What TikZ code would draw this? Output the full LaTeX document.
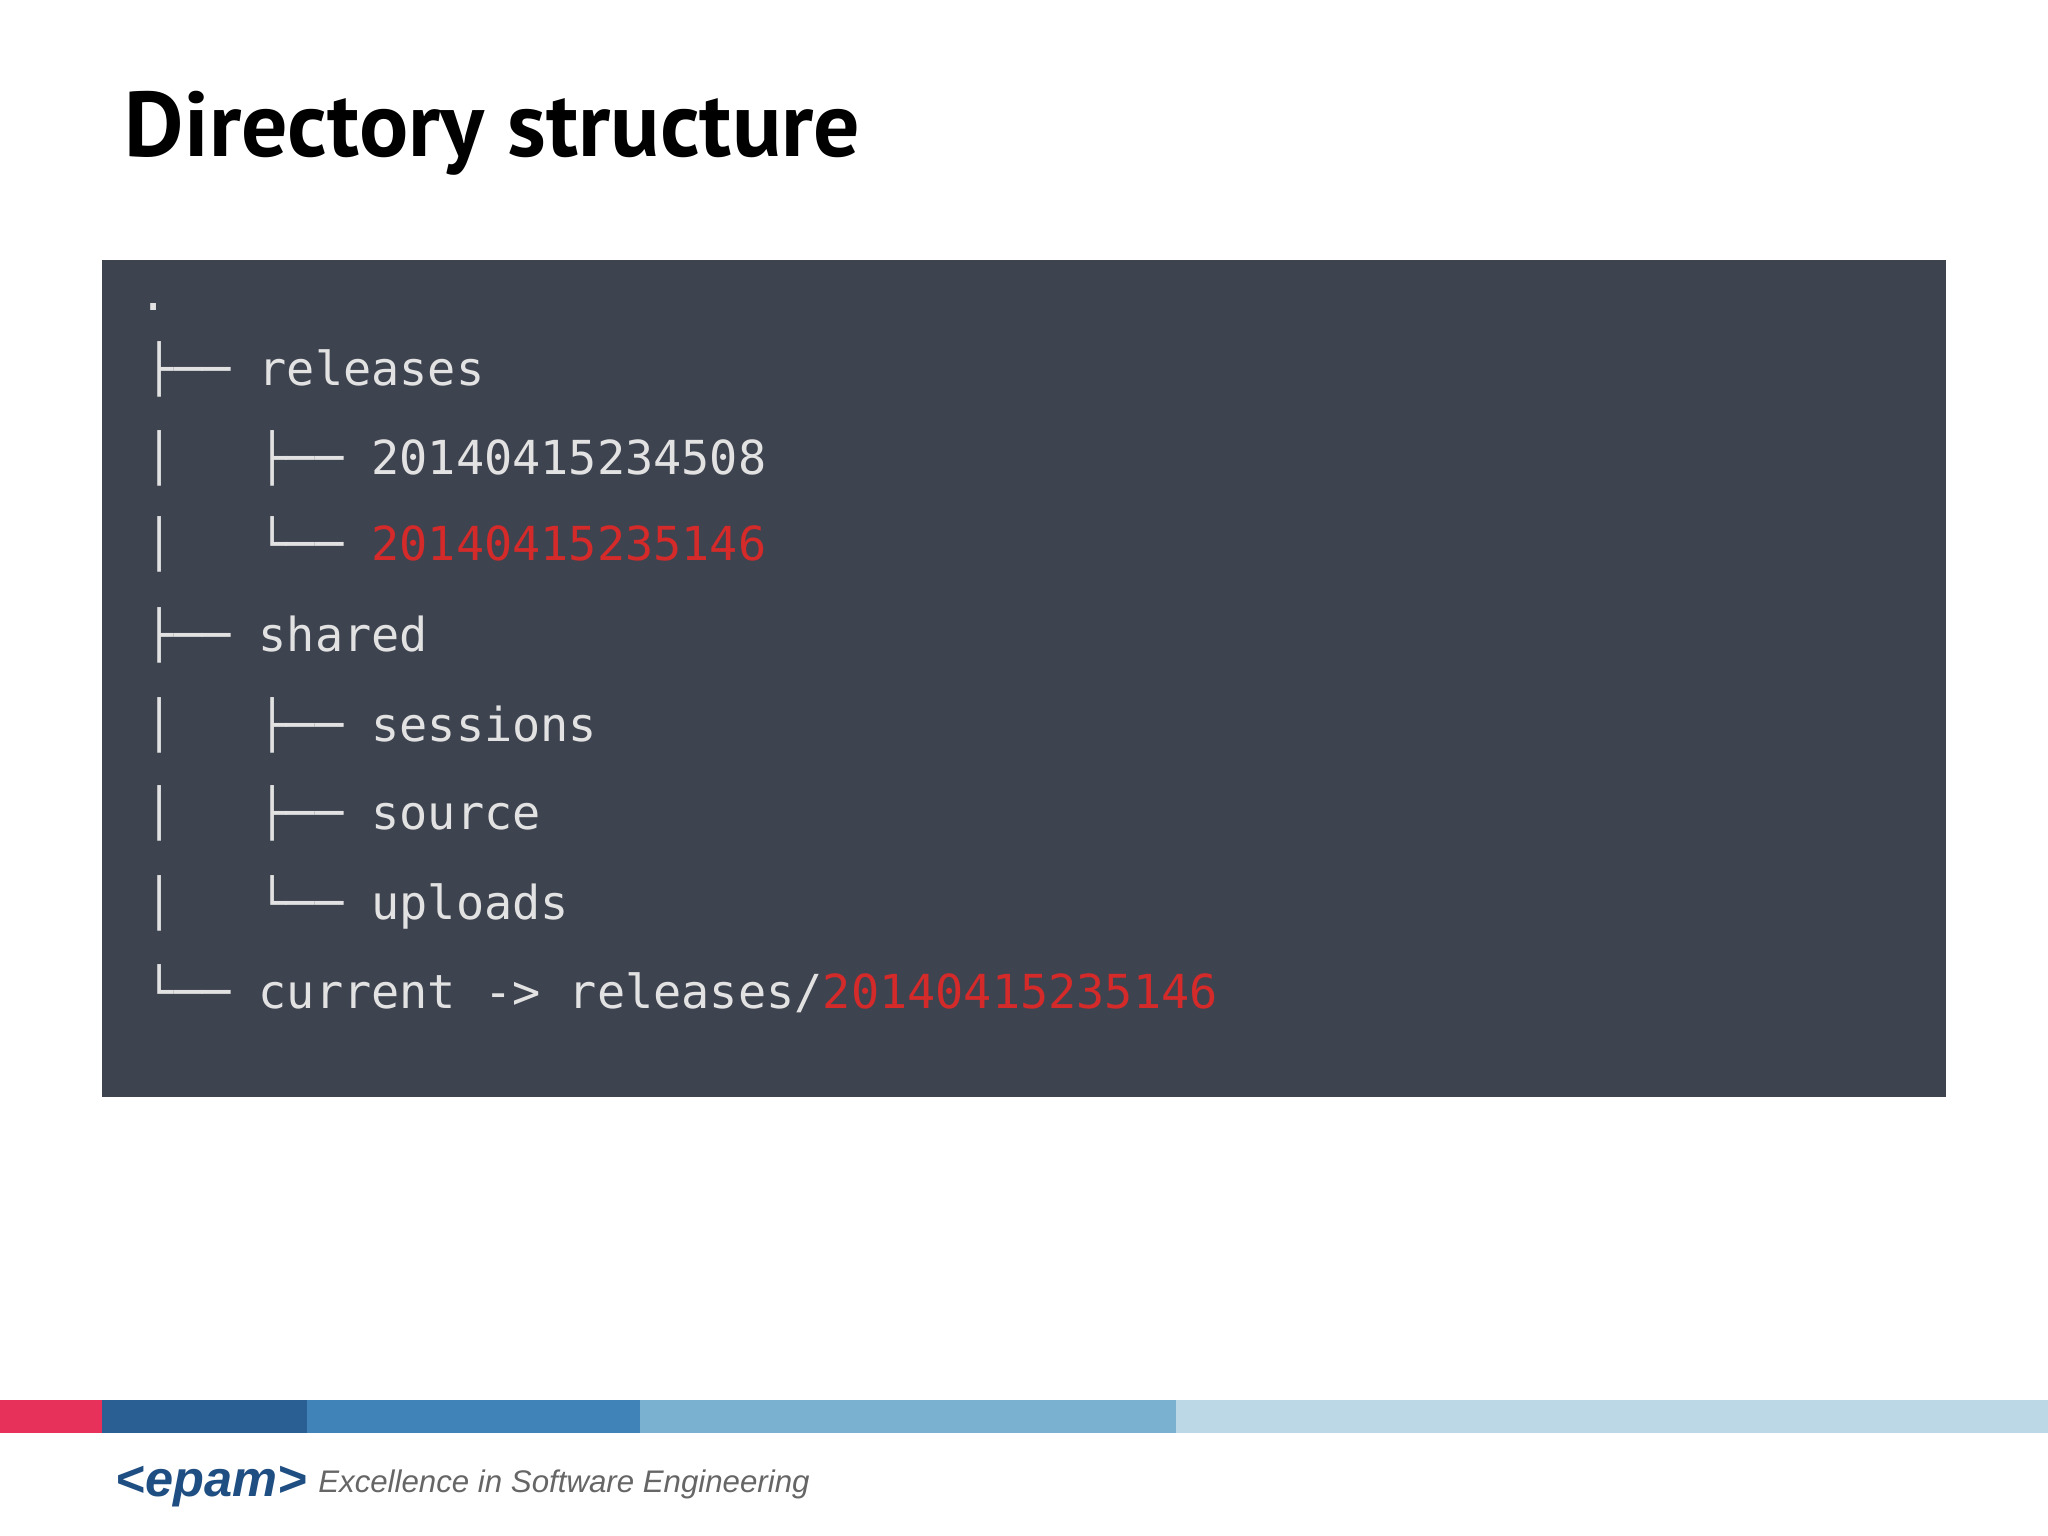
\documentclass[tikz,border=0pt]{standalone}
\usepackage{fontspec}
\setmainfont{DejaVu Sans}
\newfontfamily\titlefont{PT Sans}
\newfontfamily\treefont{DejaVu Sans Mono}
\newfontfamily\tagfont{Liberation Sans}
\definecolor{panel}{HTML}{3E4350}
\definecolor{treefg}{HTML}{E2E2E2}
\definecolor{treered}{HTML}{D42A2A}
\definecolor{barred}{HTML}{E8315A}
\definecolor{bar1}{HTML}{2A5F94}
\definecolor{bar2}{HTML}{3F83B8}
\definecolor{bar3}{HTML}{7AB0D0}
\definecolor{bar4}{HTML}{BCD8E6}
\definecolor{logo}{HTML}{1F4E82}
\tikzset{tree/.style={anchor=base west,inner sep=0pt,text=treefg,font=\treefont\fontsize{10.2pt}{12pt}\selectfont}}
\begin{document}
\begin{tikzpicture}[x=0.01cm,y=-0.01cm]
\useasboundingbox (0,0) rectangle (1568,1176);
\fill[white] (0,0) rectangle (1568,1176);
\node[anchor=base west,inner sep=0pt,font=\titlefont\bfseries\fontsize{20pt}{22pt}\selectfont] (title) at (95,120) {Directory structure};
\fill[panel] (78,199) rectangle (1490,840);
\node[tree] (root) at (106,238) {.};
\node[tree] (l1) at (111,295) {├──~releases};
\node[tree] (l2) at (111,363) {│~~~├──~20140415234508};
\node[tree] (l3) at (111,429) {│~~~└──~\textcolor{treered}{20140415235146}};
\node[tree] (l4) at (111,499) {├──~shared};
\node[tree] (l5) at (111,568) {│~~~├──~sessions};
\node[tree] (l6) at (111,635) {│~~~├──~source};
\node[tree] (l7) at (111,704) {│~~~└──~uploads};
\node[tree] (l8) at (111,772) {└──~current~->~releases/\textcolor{treered}{20140415235146}};
\fill[barred] (0,1072) rectangle (78,1097);
\fill[bar1] (78,1072) rectangle (235,1097);
\fill[bar2] (235,1072) rectangle (490,1097);
\fill[bar3] (490,1072) rectangle (900,1097);
\fill[bar4] (900,1072) rectangle (1568,1097);
\node[anchor=base west,inner sep=0pt,text=logo,font=\tagfont\bfseries\itshape\fontsize{11pt}{12pt}\selectfont] (logo) at (88,1146) {<epam>};
\node[anchor=base west,inner sep=0pt,text=gray!80!black,font=\tagfont\itshape\fontsize{6.8pt}{8pt}\selectfont] (tag) at (243,1143) {Excellence in Software Engineering};
\end{tikzpicture}
\end{document}
